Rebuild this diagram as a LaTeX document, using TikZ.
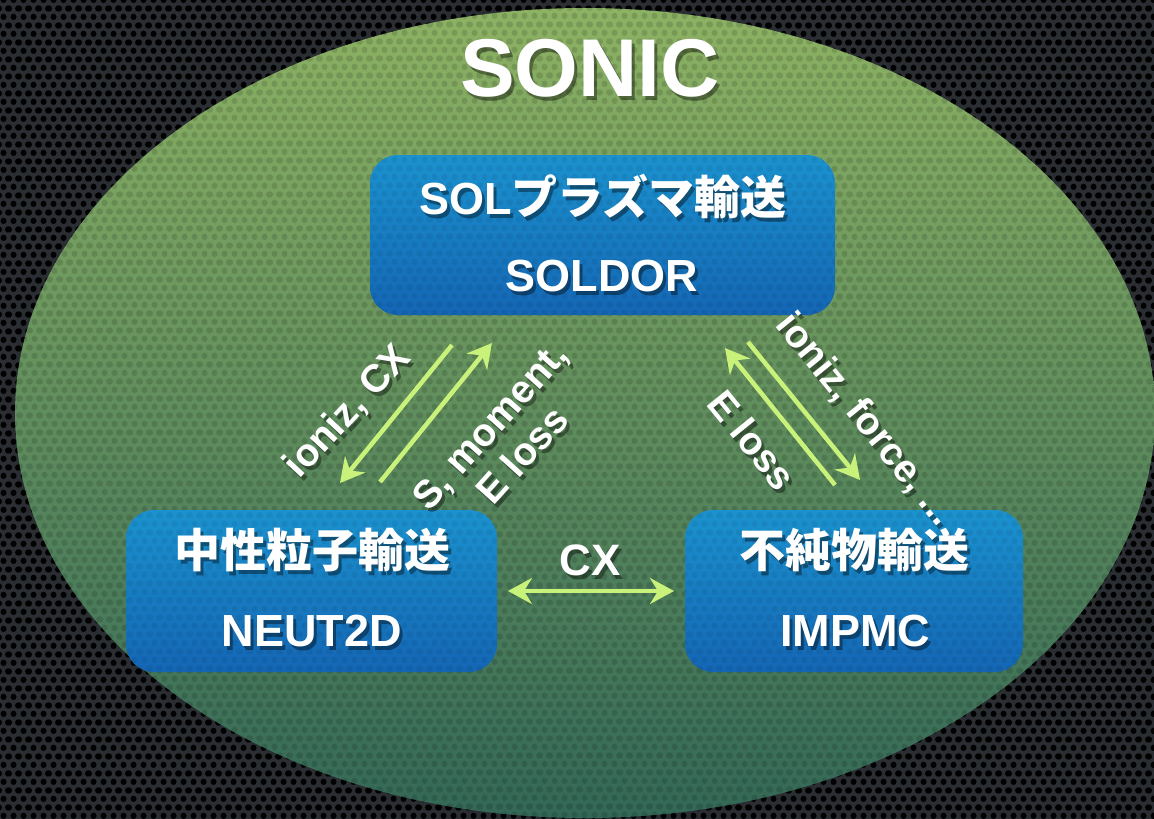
\documentclass[tikz,border=0pt]{standalone}
\usepackage{fontspec}
\setmainfont{Liberation Sans}
\newfontfamily\cjk{Noto Sans CJK JP}
\usetikzlibrary{arrows.meta,patterns.meta,shadings}
\definecolor{bgcol}{HTML}{2A2E33}
\definecolor{ellTop}{HTML}{8DB263}
\definecolor{ellMid}{HTML}{5E8B60}
\definecolor{ellBot}{HTML}{336857}
\definecolor{boxTop}{HTML}{1B92CE}
\definecolor{boxBot}{HTML}{1466B4}
\definecolor{arr}{HTML}{C9F27A}
\tikzdeclarepattern{
  name=mesh,
  type=uncolored,
  bottom left={(0pt,0pt)}, top right={(10pt,17.32pt)},
  tile size={(10pt,17.32pt)},
  code={
    \pgfpathcircle{\pgfpoint{5pt}{4.33pt}}{3.3pt}
    \pgfpathcircle{\pgfpoint{0pt}{12.99pt}}{3.3pt}
    \pgfpathcircle{\pgfpoint{10pt}{12.99pt}}{3.3pt}
    \pgfusepath{fill}
  }
}
\newcommand\shtxt[5]{%
  \node[txt,#4,text=black,text opacity=.4] (#1s) at ({#2+3},{#3+4}) {#5};
  \node[txt,#4] (#1) at (#2,#3) {#5};}
\begin{document}
\begin{tikzpicture}[x=1pt,y=-1pt,
  txt/.style={text=white,font=\bfseries\fontsize{45}{49}\selectfont,inner sep=0pt,align=center},
  jp/.style={font=\cjk\bfseries\fontsize{46}{50}\selectfont},
  lab/.style={font=\bfseries\fontsize{39}{44}\selectfont},
  box/.style={rounded corners=28pt,top color=boxTop,bottom color=boxBot,draw=none,inner sep=0pt},
  link/.style={draw=arr,line width=4.5pt},
  tip/.style={-{Stealth[length=24pt,width=26pt,inset=8pt]}},
  tips/.style={{Stealth[length=24pt,width=26pt,inset=8pt]}-{Stealth[length=24pt,width=26pt,inset=8pt]}}]
\useasboundingbox (0,0) rectangle (1154,819);
% background
\fill[bgcol] (0,0) rectangle (1154,819);
\fill[pattern=mesh,pattern color=black] (0,0) rectangle (1154,819);
% big ellipse
\shade[top color=ellTop,middle color=ellMid,bottom color=ellBot] (585,413) ellipse [x radius=570pt,y radius=405pt];
\fill[pattern=mesh,pattern color=black,fill opacity=.13] (585,413) ellipse [x radius=570pt,y radius=405pt];
% title
\shtxt{sonic}{590}{68}{font=\bfseries\fontsize{82}{86}\selectfont}{SONIC}
% boxes
\node[box,minimum width=465pt,minimum height=160pt] (soldor) at (602.5,235) {};
\node[box,minimum width=371pt,minimum height=162pt] (neut) at (311.5,591) {};
\node[box,minimum width=338pt,minimum height=162pt] (impmc) at (854,591) {};
\fill[pattern=mesh,pattern color=black,fill opacity=.06,rounded corners=28pt] (370,155) rectangle (835,315);
\fill[pattern=mesh,pattern color=black,fill opacity=.06,rounded corners=28pt] (126,510) rectangle (497,672);
\fill[pattern=mesh,pattern color=black,fill opacity=.06,rounded corners=28pt] (685,510) rectangle (1023,672);
% box texts
\shtxt{t1}{603}{197}{}{SOL{\cjk\bfseries\fontsize{46}{50}\selectfont プラズマ輸送}}
\shtxt{t2}{602}{276}{}{SOLDOR}
\shtxt{t3}{312}{550}{jp}{中性粒子輸送}
\shtxt{t4}{312}{631}{}{NEUT2D}
\shtxt{t5}{854}{550}{jp}{不純物輸送}
\shtxt{t6}{855}{631}{}{IMPMC}
% arrow end points
\coordinate (a1) at (452,345); \coordinate (a2) at (340,483);
\coordinate (b1) at (380,482); \coordinate (b2) at (492,343);
\coordinate (c1) at (835,485); \coordinate (c2) at (725,348);
\coordinate (d1) at (748,342); \coordinate (d2) at (860,480);
\coordinate (e1) at (508,591); \coordinate (e2) at (674,591);
\draw[link,tip] (a1) -- (a2);
\draw[link,tip] (b1) -- (b2);
\draw[link,tip] (c1) -- (c2);
\draw[link,tip] (d1) -- (d2);
\draw[link,tips] (e1) -- (e2);
% labels
\shtxt{l1}{348}{412}{lab,rotate=47}{ioniz, CX}
\shtxt{l2}{506}{440}{lab,rotate=48}{S, moment,\\E loss}
\shtxt{l3}{752}{440}{lab,rotate=-51}{E loss}
\shtxt{l4}{865}{420}{lab,rotate=-51}{ioniz, force, ...}
\shtxt{l5}{590}{560}{lab,font=\bfseries\fontsize{44}{48}\selectfont}{CX}
\end{tikzpicture}
\end{document}
